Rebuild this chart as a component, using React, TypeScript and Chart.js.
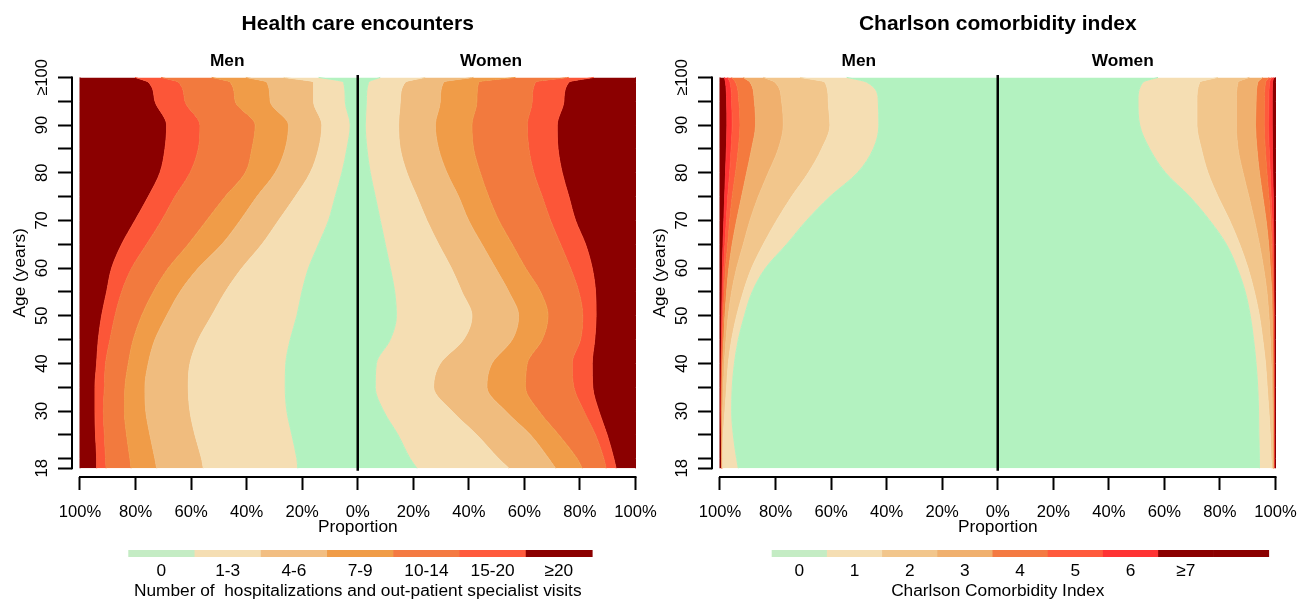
import React, { useEffect, useRef } from 'react';
import { Chart, registerables } from 'chart.js';

Chart.register(...registerables);

const FONT = "'Liberation Sans', Arial, Helvetica, sans-serif";
const TICK_SIZE = 16.6;
const TEXT_SIZE = 17.3;
const TITLE_SIZE = 21;

const AGES = [18, 20, 25, 30, 35, 40, 45, 50, 55, 60, 65, 70, 75, 80, 85, 90, 95, 99, 100];

// Axis ticks
const X_TICKS = [-100, -80, -60, -40, -20, 0, 20, 40, 60, 80, 100];
const Y_TICKS = [18, 20, 25, 30, 35, 40, 45, 50, 55, 60, 65, 70, 75, 80, 85, 90, 95, 100];
const Y_TICK_LABELS: Record<number, string> = {
  18: '18', 30: '30', 40: '40', 50: '50', 60: '60', 70: '70', 80: '80', 90: '90', 100: '≥100',
};

// ---------- Health care encounters (% of persons per category) ----------
const HC_LABELS = ['0', '1-3', '4-6', '7-9', '10-14', '15-20', '≥20'];
const HC_MEN_0 = [21.6, 21.9, 23.7, 25.5, 26.1, 25.9, 24.3, 21.9, 20.1, 17.7, 14.1, 10.5, 8.1, 5.7, 3.9, 2.7, 4.5, 5.1, 14.1];
const HC_MEN_1_3 = [34.0, 34.3, 34.9, 34.9, 34.9, 34.5, 33.1, 30.7, 27.6, 24.0, 20.4, 18.0, 14.4, 11.4, 10.2, 10.2, 11.4, 10.8, 12.6];
const HC_MEN_4_6 = [16.8, 16.8, 16.2, 15.9, 15.6, 15.0, 15.6, 16.2, 16.3, 15.7, 14.4, 13.8, 13.8, 12.6, 12.0, 12.0, 15.6, 16.8, 13.6];
const HC_MEN_7_9 = [9.2, 9.0, 8.4, 7.7, 7.2, 7.2, 7.8, 9.0, 9.6, 10.8, 12.1, 12.1, 11.4, 10.8, 12.0, 12.0, 12.6, 13.2, 12.3];
const HC_MEN_10_14 = [9.0, 8.8, 8.0, 7.6, 7.4, 8.2, 8.4, 9.6, 11.4, 13.2, 15.0, 16.2, 18.1, 19.9, 19.3, 19.9, 18.1, 18.7, 18.2];
const HC_MEN_15_20 = [3.4, 3.2, 3.2, 3.0, 3.4, 3.2, 4.2, 4.8, 5.4, 7.2, 9.0, 9.6, 9.6, 10.8, 12.0, 12.0, 10.8, 10.8, 9.4];
const HC_MEN_20P = [6.0, 6.0, 5.6, 5.4, 5.4, 6.0, 6.6, 7.8, 9.6, 11.4, 15.0, 19.8, 24.6, 28.8, 30.6, 31.2, 27.0, 24.6, 19.8];

const HC_WOMEN_0 = [21.3, 18.9, 14.5, 9.3, 6.3, 6.7, 11.7, 13.9, 13.3, 11.7, 9.9, 8.1, 6.3, 4.5, 3.3, 2.7, 3.1, 3.9, 8.1];
const HC_WOMEN_1_3 = [33.1, 31.9, 28.4, 24.6, 21.0, 23.0, 26.4, 27.2, 24.2, 22.0, 19.2, 16.8, 15.0, 13.2, 12.0, 12.0, 12.2, 13.2, 16.2];
const HC_WOMEN_4_6 = [16.8, 18.0, 19.3, 19.3, 19.2, 18.6, 17.5, 16.8, 16.9, 15.9, 15.6, 15.0, 15.0, 14.4, 13.8, 13.2, 14.4, 13.8, 17.4];
const HC_WOMEN_7_9 = [9.6, 10.2, 10.2, 12.0, 13.9, 12.7, 10.8, 10.6, 11.4, 10.8, 10.9, 10.9, 10.8, 12.0, 12.6, 13.2, 13.2, 12.6, 15.1];
const HC_WOMEN_10_14 = [8.6, 9.6, 13.2, 16.2, 17.4, 16.2, 13.8, 12.5, 13.8, 16.2, 17.4, 18.6, 19.3, 19.3, 19.9, 19.9, 19.9, 20.5, 19.2];
const HC_WOMEN_15_20 = [3.6, 3.6, 4.2, 5.4, 6.8, 7.2, 5.1, 4.8, 6.0, 7.8, 9.0, 9.0, 9.6, 10.2, 10.5, 10.8, 11.4, 12.0, 9.0];
const HC_WOMEN_20P = [7.0, 7.8, 10.2, 13.2, 15.4, 15.6, 14.7, 14.2, 14.4, 15.6, 18.0, 21.6, 24.0, 26.4, 27.9, 28.2, 25.8, 24.0, 15.0];

// ---------- Charlson comorbidity index (% of persons per score) ----------
const CCI_LABELS = ['0', '1', '2', '3', '4', '5', '6', '≥7', ''];
const CCI_MEN_0 = [93.4, 94.0, 95.2, 95.8, 95.6, 94.8, 93.4, 91.2, 88.4, 83.6, 76.0, 68.8, 60.4, 50.5, 44.8, 42.8, 43.0, 47.2, 54.4];
const CCI_MEN_1 = [5.6, 5.0, 3.6, 2.4, 2.0, 2.2, 2.4, 2.8, 3.2, 5.0, 8.4, 10.8, 13.8, 17.7, 18.6, 17.6, 18.0, 15.0, 16.8];
const CCI_MEN_2 = [0.2, 0.2, 0.3, 0.8, 1.1, 1.4, 2.0, 3.0, 4.2, 5.4, 7.2, 9.6, 12.0, 14.4, 15.6, 16.8, 16.8, 18.0, 13.2];
const CCI_MEN_3 = [0.1, 0.1, 0.2, 0.3, 0.5, 0.6, 0.8, 1.2, 1.8, 2.8, 4.0, 4.8, 6.0, 7.8, 9.6, 10.0, 9.8, 9.0, 7.2];
const CCI_MEN_4 = [0.05, 0.05, 0.1, 0.15, 0.2, 0.3, 0.5, 0.6, 0.8, 1.2, 1.6, 2.5, 3.4, 4.0, 4.8, 5.6, 5.6, 5.2, 4.2];
const CCI_MEN_5 = [0.05, 0.05, 0.05, 0.1, 0.1, 0.15, 0.2, 0.3, 0.5, 0.6, 1.0, 1.2, 1.6, 2.1, 2.6, 2.8, 2.6, 2.0, 1.4];
const CCI_MEN_6 = [0.0, 0.0, 0.05, 0.05, 0.1, 0.1, 0.15, 0.25, 0.35, 0.5, 0.7, 0.9, 1.1, 1.5, 1.7, 1.9, 1.8, 1.6, 1.2];
const CCI_MEN_7P = [0.6, 0.6, 0.5, 0.4, 0.4, 0.45, 0.55, 0.65, 0.75, 0.9, 1.1, 1.4, 1.7, 2.0, 2.3, 2.5, 2.4, 2.0, 1.6];

const CCI_WOMEN_0 = [94.2, 94.2, 94.0, 93.9, 93.6, 93.0, 92.1, 90.9, 89.1, 86.2, 82.3, 76.3, 69.1, 60.4, 54.7, 51.1, 50.5, 52.3, 57.7];
const CCI_WOMEN_1 = [4.4, 4.2, 4.1, 3.7, 3.4, 3.4, 3.3, 3.3, 3.3, 3.9, 4.8, 7.2, 10.2, 15.3, 18.6, 20.6, 21.2, 20.4, 21.6];
const CCI_WOMEN_2 = [0.4, 0.6, 0.8, 1.2, 1.7, 2.0, 2.7, 3.4, 4.5, 5.6, 7.1, 8.9, 11.1, 12.6, 13.2, 14.2, 14.2, 13.8, 11.3];
const CCI_WOMEN_3 = [0.2, 0.2, 0.3, 0.4, 0.4, 0.6, 0.8, 1.2, 1.7, 2.4, 3.3, 4.2, 5.0, 5.9, 6.8, 6.9, 7.1, 7.1, 4.8];
const CCI_WOMEN_4 = [0.1, 0.1, 0.1, 0.1, 0.2, 0.3, 0.3, 0.4, 0.4, 0.7, 1.1, 1.6, 2.2, 2.7, 3.0, 3.1, 3.0, 2.8, 2.2];
const CCI_WOMEN_5 = [0.1, 0.1, 0.1, 0.1, 0.1, 0.1, 0.15, 0.15, 0.3, 0.4, 0.4, 0.6, 0.8, 1.2, 1.4, 1.6, 1.6, 1.4, 1.1];
const CCI_WOMEN_6 = [0.1, 0.1, 0.1, 0.1, 0.1, 0.1, 0.15, 0.15, 0.15, 0.2, 0.4, 0.5, 0.8, 0.9, 1.2, 1.3, 1.2, 1.1, 0.7];
const CCI_WOMEN_7P = [0.5, 0.5, 0.5, 0.5, 0.5, 0.5, 0.5, 0.5, 0.55, 0.6, 0.6, 0.7, 0.8, 1.0, 1.1, 1.2, 1.2, 1.1, 0.6];

// Colours
const HC_COLORS = ['#B3F2C0', '#F5DEB3', '#F0BC7E', '#F09C48', '#F27A3E', '#FC5638', '#8B0000'];
const HC_LEGEND_COLORS = ['#C4ECC4', '#F5DEB3', '#F2BE82', '#F09C48', '#F47A42', '#FF5A3C', '#8B0000'];
const CCI_COLORS = ['#B3F2C0', '#F5DEB3', '#F2C68C', '#F0B06E', '#F47A3E', '#FE5A3C', '#FF3333', '#8B0000'];
const CCI_LEGEND_COLORS = ['#C4ECC4', '#F5DEB3', '#F2C68C', '#F0B06E', '#F47A42', '#FF5A3C', '#FF3333', '#8B0000', '#8B0000'];

const CANVAS_W = 668;
const CANVAS_H = 600;

type PanelCfg = {
  title: string;
  men: number[][];
  women: number[][];
  colors: string[];
  legendColors: string[];
  legendLabels: string[];
  legendTitle: string;
  legendLeft: number;
  legendRight: number;
  menAt: number;
  womenAt: number;
};

function textWidth(t: string, font: string) {
  const c = document.createElement('canvas').getContext('2d')!;
  c.font = font;
  return c.measureText(t).width;
}

function buildDatasets(cfg: PanelCfg) {
  const ds: any[] = [];
  const common = {
    pointRadius: 0,
    pointHitRadius: 0,
    borderWidth: 1,
    cubicInterpolationMode: 'monotone',
  };
  cfg.men.forEach((vals, i) => {
    ds.push({
      ...common,
      label: 'Men ' + i,
      stack: 'men',
      data: AGES.map((a, j) => ({ y: a, x: -vals[j] })),
      backgroundColor: cfg.colors[i],
      borderColor: cfg.colors[i],
      fill: i === 0 ? 'origin' : '-1',
    });
  });
  cfg.women.forEach((vals, i) => {
    ds.push({
      ...common,
      label: 'Women ' + i,
      stack: 'women',
      data: AGES.map((a, j) => ({ y: a, x: vals[j] })),
      backgroundColor: cfg.colors[i],
      borderColor: cfg.colors[i],
      fill: i === 0 ? 'origin' : '-1',
    });
  });
  return ds;
}

function makeDecor(cfg: PanelCfg) {
  return {
    id: 'decor',
    afterDatasetsDraw(chart: any) {
      const { ctx } = chart;
      const xs = chart.scales.x;
      const ys = chart.scales.y;
      const x0 = xs.getPixelForValue(0);
      ctx.save();
      ctx.strokeStyle = '#000';
      ctx.lineWidth = 2.5;
      ctx.beginPath();
      ctx.moveTo(x0, ys.getPixelForValue(17.5));
      ctx.lineTo(x0, ys.getPixelForValue(100.5));
      ctx.stroke();
      ctx.restore();
    },
    afterDraw(chart: any) {
      const { ctx, chartArea } = chart;
      const xs = chart.scales.x;
      const ys = chart.scales.y;
      const x0 = xs.getPixelForValue(0);
      ctx.save();
      ctx.strokeStyle = '#000';
      ctx.fillStyle = '#000';
      ctx.lineWidth = 2;
      ctx.beginPath();
      ctx.moveTo(xs.getPixelForValue(X_TICKS[0]) - 1, chartArea.bottom);
      ctx.lineTo(xs.getPixelForValue(X_TICKS[X_TICKS.length - 1]) + 1, chartArea.bottom);
      ctx.moveTo(chartArea.left, ys.getPixelForValue(Y_TICKS[0]) + 1);
      ctx.lineTo(chartArea.left, ys.getPixelForValue(Y_TICKS[Y_TICKS.length - 1]) - 1);
      ctx.stroke();

      ctx.textAlign = 'center';
      ctx.textBaseline = 'middle';
      ctx.font = `bold ${TITLE_SIZE}px ${FONT}`;
      ctx.fillText(cfg.title, x0, 24);
      ctx.font = `bold ${TEXT_SIZE}px ${FONT}`;
      ctx.fillText('Men', xs.getPixelForValue(cfg.menAt), 61);
      ctx.fillText('Women', xs.getPixelForValue(cfg.womenAt), 61);
      ctx.font = `${TEXT_SIZE}px ${FONT}`;
      ctx.fillText('Proportion', x0, 527);

      const midY = (ys.getPixelForValue(17.5) + ys.getPixelForValue(100.5)) / 2;
      ctx.save();
      ctx.translate(20, midY);
      ctx.rotate(-Math.PI / 2);
      ctx.fillText('Age (years)', 0, 0);
      ctx.restore();

      const n = cfg.legendColors.length;
      const w = (cfg.legendRight - cfg.legendLeft) / n;
      cfg.legendColors.forEach((c, i) => {
        ctx.fillStyle = c;
        ctx.fillRect(cfg.legendLeft + i * w, 550, w + 0.6, 7);
      });
      ctx.fillStyle = '#000';
      cfg.legendLabels.forEach((l, i) => {
        if (l) ctx.fillText(l, cfg.legendLeft + (i + 0.5) * w, 571.5);
      });
      ctx.fillText(cfg.legendTitle, x0, 591);
      ctx.restore();
    },
  };
}

function Panel({ left, cfg }: { left: number; cfg: PanelCfg }) {
  const ref = useRef<HTMLCanvasElement>(null);
  useEffect(() => {
    const widest = textWidth('≥100', `normal ${TICK_SIZE}px ${FONT}`);
    const tickFont = { size: TICK_SIZE, family: FONT };
    const chart = new Chart(ref.current!, {
      type: 'line',
      data: { datasets: buildDatasets(cfg) },
      plugins: [makeDecor(cfg)],
      options: {
        responsive: false,
        animation: false,
        indexAxis: 'y',
        events: [],
        layout: { padding: { left: 0, right: CANVAS_W - 636, top: 75, bottom: 0 } },
        plugins: {
          legend: { display: false },
          tooltip: { enabled: false },
          title: { display: false },
        },
        scales: {
          x: {
            type: 'linear',
            position: 'bottom',
            stacked: true,
            min: -102.88,
            max: 100.18,
            afterBuildTicks: (s: any) => {
              s.ticks = X_TICKS.map((v) => ({ value: v }));
            },
            afterFit: (s: any) => {
              s.height = 123;
              s.paddingLeft = 0;
              s.paddingRight = 0;
            },
            ticks: {
              autoSkip: false,
              maxRotation: 0,
              minRotation: 0,
              color: '#000',
              font: tickFont,
              padding: 12,
              callback: (v: any) => Math.abs(Number(v)) + '%',
            },
            grid: {
              display: true,
              drawOnChartArea: false,
              drawTicks: true,
              tickLength: 13,
              tickWidth: 2,
              tickColor: '#000',
            },
            border: { display: false },
          },
          y: {
            type: 'linear',
            position: 'left',
            min: 16.17,
            max: 100.5,
            afterBuildTicks: (s: any) => {
              s.ticks = Y_TICKS.map((v) => ({ value: v }));
            },
            afterFit: (s: any) => {
              s.width = 72;
              s.paddingTop = 0;
              s.paddingBottom = 0;
            },
            ticks: {
              autoSkip: false,
              minRotation: 90,
              maxRotation: 90,
              crossAlign: 'center',
              padding: 16 - widest / 2,
              color: '#000',
              font: tickFont,
              callback: (v: any) => Y_TICK_LABELS[Number(v)] ?? '',
            },
            grid: {
              display: true,
              drawOnChartArea: false,
              drawTicks: true,
              tickLength: 14,
              tickWidth: 2,
              tickColor: '#000',
            },
            border: { display: false },
          },
        },
      } as any,
    });
    return () => chart.destroy();
  }, []);
  return (
    <canvas
      ref={ref}
      width={CANVAS_W}
      height={CANVAS_H}
      style={{ position: 'absolute', left, top: 0, width: CANVAS_W, height: CANVAS_H }}
    />
  );
}

const HC_CFG: PanelCfg = {
  title: 'Health care encounters',
  men: [HC_MEN_0, HC_MEN_1_3, HC_MEN_4_6, HC_MEN_7_9, HC_MEN_10_14, HC_MEN_15_20, HC_MEN_20P],
  women: [HC_WOMEN_0, HC_WOMEN_1_3, HC_WOMEN_4_6, HC_WOMEN_7_9, HC_WOMEN_10_14, HC_WOMEN_15_20, HC_WOMEN_20P],
  colors: HC_COLORS,
  legendColors: HC_LEGEND_COLORS,
  legendLabels: HC_LABELS,
  legendTitle: 'Number of  hospitalizations and out-patient specialist visits',
  legendLeft: 128.3,
  legendRight: 592,
  menAt: -47,
  womenAt: 48,
};

const CCI_CFG: PanelCfg = {
  title: 'Charlson comorbidity index',
  men: [CCI_MEN_0, CCI_MEN_1, CCI_MEN_2, CCI_MEN_3, CCI_MEN_4, CCI_MEN_5, CCI_MEN_6, CCI_MEN_7P],
  women: [CCI_WOMEN_0, CCI_WOMEN_1, CCI_WOMEN_2, CCI_WOMEN_3, CCI_WOMEN_4, CCI_WOMEN_5, CCI_WOMEN_6, CCI_WOMEN_7P],
  colors: CCI_COLORS,
  legendColors: CCI_LEGEND_COLORS,
  legendLabels: CCI_LABELS,
  legendTitle: 'Charlson Comorbidity Index',
  legendLeft: 131.7,
  legendRight: 628.5,
  menAt: -50,
  womenAt: 45,
};

export default function App() {
  useEffect(() => {
    document.body.style.margin = '0';
    document.body.style.background = '#fff';
  }, []);
  return (
    <div style={{ position: 'relative', width: 1308, height: 600, overflow: 'hidden', background: '#fff' }}>
      <Panel left={0} cfg={HC_CFG} />
      <Panel left={640} cfg={CCI_CFG} />
    </div>
  );
}
